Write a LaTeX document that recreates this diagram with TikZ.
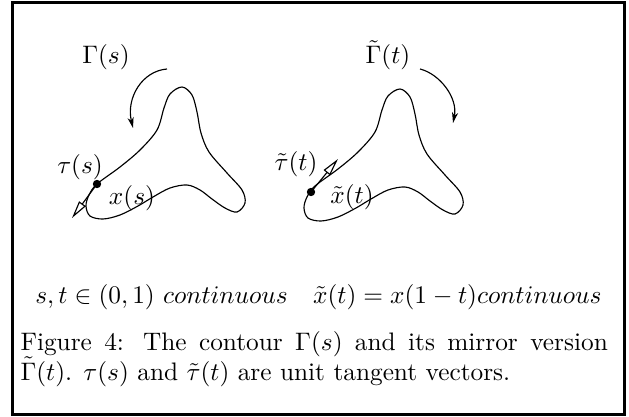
\documentclass[tikz,border=0pt]{standalone}
\usetikzlibrary{arrows.meta}
\begin{document}
\begin{tikzpicture}[x=0.395pt,y=-0.395pt,
  contour/.style={line width=0.45pt},
  dotnode/.style={circle,fill=black,inner sep=0pt,minimum size=3.3pt},
  tanarrow/.style={line width=0.45pt,-{Triangle[open,length=7pt,width=3.2pt]}},
  turnarrow/.style={line width=0.45pt,-{Stealth[length=4.2pt,width=2.4pt,inset=1.2pt]}},
  lbl/.style={inner sep=0pt}]
\useasboundingbox (0,0) rectangle (629,417);
\draw[line width=1.2pt] (12.5,2.5) rectangle (624.5,414.5);
% contours
\foreach \dx/\dy in {0/0,218/2}{
\draw[contour,shift={(\dx,\dy)}] plot[smooth cycle,tension=0.55] coordinates {
 (97,184) (120,167) (140,150) (157,130) (164,108) (170,94) (182,87)
 (192,95) (197,112) (201,133) (209,152) (227,173) (242,190) (245,203)
 (237,212) (225,208) (212,199) (200,190) (187,185) (170,188) (153,197)
 (138,206) (120,215) (103,219) (90,216) (86,206) (89,195)};
}
% points
\node[dotnode] (d1) at (97,184) {};
\node[dotnode] (d2) at (311,192) {};
\coordinate (t1) at (72,218);
\coordinate (t2) at (338,159);
\draw[tanarrow] (d1.center) -- (t1);
\draw[tanarrow] (d2.center) -- (t2);
% turning arrows
\coordinate (a1s) at (167,69);
\coordinate (a1e) at (133,128);
\coordinate (a2s) at (420,69);
\coordinate (a2e) at (453,123);
\draw[turnarrow] (a1s) .. controls (142,71) and (126,98) .. (a1e);
\draw[turnarrow] (a2s) .. controls (440,74) and (458,98) .. (a2e);
% labels
\node[lbl] (G1) at (106,57) {$\Gamma(s)$};
\node[lbl] (G2) at (388,55) {$\tilde\Gamma(t)$};
\node[lbl] (tau1) at (80,167) {$\tau(s)$};
\node[lbl] (tau2) at (296,164) {$\tilde\tau(t)$};
\node[lbl] (x1) at (132,198) {$x(s)$};
\node[lbl] (x2) at (352,197) {$\tilde x(t)$};
% formula
\node[lbl,anchor=base] (form) at (318.5,303) {$s,t\in(0,1)\ continuous\quad \tilde x(t)=x(1-t)continuous$};
% caption
\node[lbl,anchor=base west,text width=232pt,align=justify] (cap) at (20,350)
 {Figure 4: The contour $\Gamma(s)$ and its mirror version\linebreak $\tilde\Gamma(t)$. $\tau(s)$ and $\tilde\tau(t)$ are unit tangent vectors.};
\end{tikzpicture}
\end{document}
